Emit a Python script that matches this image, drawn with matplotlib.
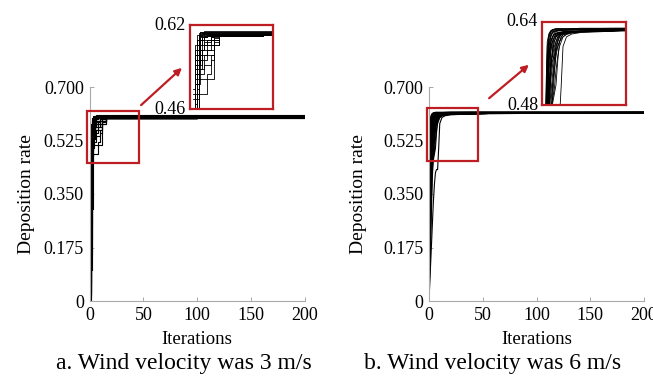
import matplotlib
matplotlib.use('Agg')
import matplotlib.pyplot as plt
from matplotlib.patches import Rectangle, FancyArrowPatch

plt.rcParams['font.family'] = ['Liberation Serif', 'DejaVu Serif']

# iteration grid for each case
iters_3ms = [0, 1, 2, 3, 4, 5, 6, 8, 10, 12, 15, 20, 40, 100, 200]
iters_6ms = [0, 1, 2, 3, 4, 5, 6, 7, 8, 9, 10, 12, 15, 20, 40, 100, 200]

# deposition rate of each run, wind 3 m/s
rate_3ms = [
    [0.00, 0.20, 0.55, 0.58, 0.59, 0.595, 0.597, 0.598, 0.598, 0.599, 0.599, 0.599, 0.600, 0.601, 0.602],
    [0.02, 0.52, 0.57, 0.59, 0.597, 0.600, 0.601, 0.601, 0.601, 0.601, 0.601, 0.601, 0.601, 0.602, 0.603],
    [0.06, 0.10, 0.30, 0.56, 0.58, 0.59, 0.595, 0.597, 0.598, 0.598, 0.599, 0.599, 0.600, 0.601, 0.602],
    [0.10, 0.55, 0.58, 0.595, 0.600, 0.603, 0.604, 0.604, 0.604, 0.604, 0.604, 0.604, 0.604, 0.604, 0.604],
    [0.15, 0.48, 0.48, 0.50, 0.52, 0.52, 0.54, 0.54, 0.56, 0.59, 0.597, 0.598, 0.599, 0.600, 0.602],
    [0.20, 0.51, 0.54, 0.54, 0.55, 0.57, 0.58, 0.59, 0.595, 0.597, 0.598, 0.598, 0.599, 0.601, 0.602],
    [0.25, 0.40, 0.50, 0.53, 0.53, 0.55, 0.56, 0.57, 0.58, 0.59, 0.597, 0.598, 0.599, 0.601, 0.602],
    [0.30, 0.56, 0.59, 0.600, 0.602, 0.603, 0.603, 0.603, 0.603, 0.603, 0.603, 0.603, 0.603, 0.604, 0.604],
    [0.33, 0.50, 0.50, 0.51, 0.51, 0.51, 0.51, 0.51, 0.51, 0.58, 0.597, 0.598, 0.599, 0.601, 0.602],
    [0.36, 0.53, 0.56, 0.58, 0.59, 0.596, 0.598, 0.599, 0.599, 0.600, 0.600, 0.600, 0.601, 0.602, 0.603],
    [0.39, 0.47, 0.47, 0.48, 0.48, 0.48, 0.48, 0.52, 0.55, 0.59, 0.597, 0.598, 0.599, 0.600, 0.602],
    [0.41, 0.54, 0.57, 0.59, 0.598, 0.601, 0.602, 0.602, 0.602, 0.602, 0.602, 0.602, 0.602, 0.603, 0.603],
    [0.43, 0.50, 0.52, 0.54, 0.56, 0.57, 0.58, 0.585, 0.59, 0.594, 0.597, 0.598, 0.599, 0.601, 0.602],
    [0.44, 0.57, 0.59, 0.600, 0.603, 0.604, 0.605, 0.605, 0.605, 0.605, 0.605, 0.605, 0.605, 0.605, 0.605],
    [0.45, 0.52, 0.55, 0.55, 0.57, 0.57, 0.58, 0.58, 0.59, 0.595, 0.598, 0.599, 0.600, 0.601, 0.602],
    [0.05, 0.35, 0.51, 0.53, 0.53, 0.53, 0.55, 0.56, 0.56, 0.58, 0.597, 0.598, 0.599, 0.601, 0.602],
    [0.47, 0.55, 0.58, 0.59, 0.595, 0.598, 0.600, 0.600, 0.601, 0.601, 0.601, 0.601, 0.601, 0.602, 0.603],
    [0.48, 0.53, 0.53, 0.56, 0.58, 0.59, 0.596, 0.598, 0.599, 0.599, 0.600, 0.600, 0.600, 0.601, 0.602],
    [0.49, 0.58, 0.600, 0.604, 0.606, 0.606, 0.606, 0.606, 0.606, 0.606, 0.606, 0.606, 0.606, 0.606, 0.606],
    [0.03, 0.15, 0.54, 0.57, 0.59, 0.59, 0.595, 0.597, 0.598, 0.598, 0.599, 0.599, 0.600, 0.601, 0.602],
    [0.12, 0.54, 0.56, 0.56, 0.56, 0.57, 0.57, 0.58, 0.58, 0.59, 0.597, 0.598, 0.599, 0.601, 0.602],
    [0.08, 0.56, 0.58, 0.595, 0.600, 0.601, 0.602, 0.602, 0.602, 0.602, 0.602, 0.602, 0.602, 0.603, 0.603],
    [0.01, 0.25, 0.45, 0.55, 0.57, 0.58, 0.59, 0.59, 0.595, 0.597, 0.598, 0.599, 0.600, 0.601, 0.602],
    [0.28, 0.52, 0.52, 0.54, 0.54, 0.56, 0.56, 0.57, 0.57, 0.585, 0.597, 0.598, 0.599, 0.601, 0.602],
    [0.02, 0.30, 0.58, 0.60, 0.605, 0.606, 0.607, 0.607, 0.607, 0.607, 0.607, 0.607, 0.607, 0.607, 0.607],
    [0.18, 0.46, 0.49, 0.52, 0.55, 0.57, 0.585, 0.59, 0.596, 0.598, 0.599, 0.599, 0.600, 0.601, 0.602],
]

# deposition rate of each run, wind 6 m/s
rate_6ms = [
    [0.00, 0.40, 0.55, 0.59, 0.600, 0.605, 0.607, 0.608, 0.609, 0.609, 0.610, 0.610, 0.611, 0.612, 0.613, 0.615, 0.616],
    [0.02, 0.20, 0.42, 0.52, 0.57, 0.59, 0.600, 0.605, 0.607, 0.608, 0.609, 0.610, 0.611, 0.612, 0.613, 0.615, 0.616],
    [0.00, 0.08, 0.16, 0.24, 0.32, 0.38, 0.42, 0.43, 0.43, 0.50, 0.58, 0.600, 0.606, 0.609, 0.612, 0.614, 0.616],
    [0.05, 0.50, 0.58, 0.600, 0.610, 0.612, 0.613, 0.613, 0.614, 0.614, 0.614, 0.614, 0.615, 0.615, 0.615, 0.616, 0.617],
    [0.10, 0.35, 0.48, 0.55, 0.56, 0.58, 0.59, 0.600, 0.604, 0.606, 0.607, 0.608, 0.610, 0.611, 0.613, 0.615, 0.616],
    [0.15, 0.45, 0.53, 0.57, 0.59, 0.600, 0.605, 0.607, 0.608, 0.609, 0.610, 0.610, 0.611, 0.612, 0.613, 0.615, 0.616],
    [0.03, 0.25, 0.38, 0.46, 0.50, 0.53, 0.56, 0.58, 0.59, 0.600, 0.604, 0.607, 0.609, 0.611, 0.613, 0.615, 0.616],
    [0.20, 0.55, 0.600, 0.610, 0.614, 0.615, 0.616, 0.616, 0.616, 0.616, 0.616, 0.616, 0.617, 0.617, 0.617, 0.617, 0.617],
    [0.08, 0.30, 0.40, 0.44, 0.47, 0.52, 0.57, 0.59, 0.600, 0.604, 0.606, 0.608, 0.610, 0.611, 0.613, 0.615, 0.616],
    [0.25, 0.48, 0.56, 0.59, 0.600, 0.606, 0.608, 0.609, 0.610, 0.610, 0.611, 0.611, 0.612, 0.612, 0.613, 0.615, 0.616],
    [0.01, 0.15, 0.30, 0.42, 0.49, 0.55, 0.58, 0.59, 0.600, 0.605, 0.607, 0.609, 0.610, 0.611, 0.613, 0.615, 0.616],
    [0.30, 0.52, 0.58, 0.600, 0.608, 0.611, 0.612, 0.613, 0.613, 0.613, 0.614, 0.614, 0.614, 0.615, 0.615, 0.616, 0.617],
    [0.12, 0.38, 0.45, 0.48, 0.52, 0.55, 0.57, 0.58, 0.59, 0.595, 0.600, 0.605, 0.608, 0.610, 0.613, 0.615, 0.616],
    [0.35, 0.56, 0.600, 0.609, 0.612, 0.614, 0.615, 0.615, 0.615, 0.615, 0.615, 0.615, 0.616, 0.616, 0.616, 0.617, 0.617],
    [0.06, 0.28, 0.44, 0.53, 0.58, 0.600, 0.606, 0.608, 0.609, 0.610, 0.610, 0.611, 0.611, 0.612, 0.613, 0.615, 0.616],
    [0.18, 0.42, 0.50, 0.54, 0.57, 0.59, 0.600, 0.604, 0.606, 0.607, 0.608, 0.609, 0.610, 0.611, 0.613, 0.615, 0.616],
    [0.04, 0.18, 0.33, 0.45, 0.47, 0.49, 0.53, 0.56, 0.58, 0.59, 0.600, 0.606, 0.609, 0.611, 0.613, 0.615, 0.616],
    [0.40, 0.58, 0.605, 0.612, 0.615, 0.616, 0.617, 0.617, 0.617, 0.617, 0.617, 0.617, 0.617, 0.617, 0.618, 0.618, 0.618],
    [0.14, 0.46, 0.55, 0.58, 0.59, 0.597, 0.602, 0.605, 0.607, 0.608, 0.609, 0.610, 0.611, 0.612, 0.613, 0.615, 0.616],
    [0.22, 0.50, 0.57, 0.59, 0.600, 0.604, 0.606, 0.607, 0.608, 0.609, 0.610, 0.610, 0.611, 0.612, 0.613, 0.615, 0.616],
    [0.09, 0.33, 0.47, 0.51, 0.54, 0.57, 0.59, 0.600, 0.605, 0.607, 0.608, 0.609, 0.610, 0.611, 0.613, 0.615, 0.616],
    [0.28, 0.54, 0.59, 0.605, 0.610, 0.612, 0.613, 0.614, 0.614, 0.614, 0.614, 0.615, 0.615, 0.615, 0.616, 0.616, 0.617],
    [0.02, 0.12, 0.26, 0.40, 0.46, 0.48, 0.50, 0.55, 0.59, 0.600, 0.605, 0.608, 0.610, 0.611, 0.613, 0.615, 0.616],
    [0.45, 0.59, 0.607, 0.613, 0.615, 0.616, 0.617, 0.617, 0.617, 0.617, 0.617, 0.617, 0.617, 0.618, 0.618, 0.618, 0.618],
    [0.00, 0.22, 0.48, 0.57, 0.60, 0.608, 0.611, 0.612, 0.613, 0.613, 0.614, 0.614, 0.614, 0.615, 0.615, 0.616, 0.617],
    [0.05, 0.30, 0.50, 0.54, 0.55, 0.56, 0.58, 0.595, 0.603, 0.607, 0.608, 0.609, 0.610, 0.611, 0.613, 0.615, 0.616],
]

y_ticks = [0, 0.175, 0.350, 0.525, 0.700]
y_tick_labels = ['0', '0.175', '0.350', '0.525', '0.700']
x_ticks = [0, 50, 100, 150, 200]
captions = ['a. Wind velocity was 3 m/s', 'b. Wind velocity was 6 m/s']
zoom_ylims = [(0.45, 0.62), (0.458, 0.631)]
zoom_labels = [('0.62', '0.46'), ('0.64', '0.48')]

red = '#BE1E23'
W, H = 653, 376

fig = plt.figure(figsize=(6.53, 3.76), dpi=100)


def px(x0, y0, x1, y1):
    # pixel box -> figure fraction rect
    return [x0 / W, 1 - y1 / H, (x1 - x0) / W, (y1 - y0) / H]


panels = [
    dict(iters=iters_3ms, rates=rate_3ms, step='steps-post', main=px(89.5, 87, 305, 301),
         inset=px(190, 25, 273, 109), arrow=((139, 107), (184, 66)), ylab_x=-0.255,
         cap_x=184, lab_x=186),
    dict(iters=iters_6ms, rates=rate_6ms, step='default', main=px(429, 87, 644, 301),
         inset=px(542, 22, 626, 105), arrow=((487, 100), (531, 63)), ylab_x=-0.29,
         cap_x=493, lab_x=538),
]

for i, p in enumerate(panels):
    ax = fig.add_axes(p['main'])
    for r in p['rates']:
        ax.plot(p['iters'], r, color='black', lw=0.8, drawstyle=p['step'])
    ax.set_xlim(0, 200)
    ax.set_ylim(0, 0.7)
    ax.set_xticks(x_ticks)
    ax.set_yticks(y_ticks)
    ax.set_yticklabels(y_tick_labels)
    ax.tick_params(direction='in', length=3, width=0.6, color='#999999',
                   labelsize=13, pad=4)
    for s in ['top', 'right']:
        ax.spines[s].set_visible(False)
    for s in ['left', 'bottom']:
        ax.spines[s].set_color('#aaaaaa')
        ax.spines[s].set_linewidth(0.8)
    ax.set_xlabel('Iterations', fontsize=13.5)
    ax.xaxis.set_label_coords(0.5, -0.14)
    ax.set_ylabel('Deposition rate', fontsize=14)
    ax.yaxis.set_label_coords(p['ylab_x'], 0.5)

    # box around the zoomed region
    lo, hi = zoom_ylims[i]
    ax.add_patch(Rectangle((-2, lo), 48, hi - lo, fill=False, edgecolor=red,
                           lw=1.6, clip_on=False, zorder=5))

    # zoomed view
    ins = fig.add_axes(p['inset'])
    for r in p['rates']:
        ins.plot(p['iters'], r, color='black', lw=0.6, drawstyle=p['step'])
    ins.set_xlim(-2, 46)
    ins.set_ylim(lo, hi)
    ins.set_xticks([])
    ins.set_yticks([])
    for s in ins.spines.values():
        s.set_color(red)
        s.set_linewidth(1.6)

    # labels for top and bottom of zoom
    fig.text(p['lab_x'] / W, p['inset'][1] + p['inset'][3], zoom_labels[i][0],
             ha='right', va='center', fontsize=13)
    fig.text(p['lab_x'] / W, p['inset'][1], zoom_labels[i][1],
             ha='right', va='center', fontsize=13)

    (ax0, ay0), (ax1, ay1) = p['arrow']
    fig.add_artist(FancyArrowPatch(
        (ax0 / W, 1 - ay0 / H), (ax1 / W, 1 - ay1 / H), transform=fig.transFigure,
        arrowstyle='-|>', mutation_scale=10, color=red, lw=1.6))

    fig.text(p['cap_x'] / W, 1 - 363 / H, captions[i], ha='center', va='center',
             fontsize=17)

fig.savefig('out.png', dpi=100)
